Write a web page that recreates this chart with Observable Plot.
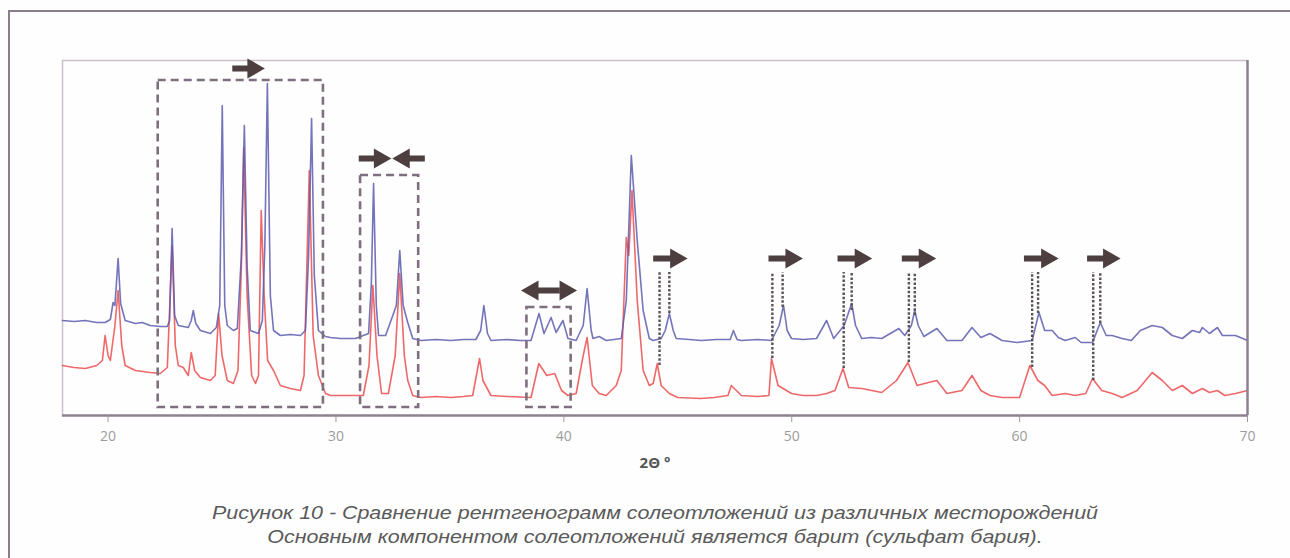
<!DOCTYPE html>
<html>
<head>
<meta charset="utf-8">
<script src="https://cdn.jsdelivr.net/npm/d3@7"></script>
<script src="https://cdn.jsdelivr.net/npm/@observablehq/plot@0.6"></script>
<style>
  html, body { margin: 0; padding: 0; background: #ffffff; }
  #page { position: relative; width: 1290px; height: 558px; overflow: hidden; background: #fefefe; }
  #outer { position: absolute; left: 8px; top: 10px; width: 1300px; height: 560px;
           border-left: 2.5px solid #8b7e8b; border-top: 2.5px solid #8b7e8b; }
  #chart { position: absolute; left: 0; top: 0; }
  #caption { position: absolute; left: 10px; top: 480px; width: 1290px; text-align: center;
             font-family: "Liberation Sans", Arial, sans-serif;
             font-style: italic; font-size: 18px; line-height: 24px;
             color: #5a5a5a; padding-top: 21px; transform: scaleX(1.19); transform-origin: 645px 0; }
</style>
</head>
<body>
<div id="page">
  <div id="outer"></div>
  <div id="chart"></div>
  <div id="caption">
    <div>Рисунок 10 - Сравнение рентгенограмм солеотложений из различных месторождений</div>
    <div>Основным компонентом солеотложений является барит (сульфат бария).</div>
  </div>
</div>
<script>
// ---- Diffractogram 1 (upper, blue) : 2θ and intensity (a.u.)
const blueTheta = [18.0,18.5,19.0,19.5,19.87,20.1,20.22,20.3,20.44,20.55,20.75,21.2,21.5,21.85,22.29,22.6,22.7,22.81,22.92,23.08,23.52,23.65,23.74,23.85,24.05,24.49,24.75,24.9,25.01,25.12,25.23,25.5,25.67,25.85,25.98,26.1,26.24,26.6,26.77,26.88,26.99,27.12,27.26,27.56,28.0,28.44,28.66,28.8,28.93,29.05,29.23,29.54,29.76,30.2,30.86,31.43,31.55,31.65,31.77,31.87,32.18,32.65,32.8,32.95,33.15,33.37,33.72,34.4,35.04,35.6,36.14,36.35,36.49,36.65,36.8,37.5,38.1,38.56,38.91,39.13,39.44,39.66,39.96,40.18,40.54,40.85,41.02,41.2,41.28,41.55,41.86,42.52,42.74,42.96,43.22,43.48,43.75,43.92,44.27,44.45,44.63,44.8,44.93,45.5,46.03,46.7,47.3,47.44,47.6,47.79,48.5,49.11,49.45,49.64,49.8,49.99,50.5,51.09,51.53,51.84,52.3,52.63,52.8,53.07,53.5,53.95,54.7,54.96,55.25,55.4,55.55,55.8,56.37,56.81,57.47,57.91,58.3,58.7,59.23,59.89,60.55,60.85,61.1,61.43,61.7,62.0,62.44,62.7,63.2,63.54,63.8,64.06,64.5,64.9,65.3,65.82,66.26,66.7,67.14,67.58,67.9,68.02,68.33,68.68,68.9,69.47,70.0];
const blueI = [95,94,95,93,93,96,113,110,157,112,95,92,93,90,89,89,95,187,100,90,88,95,105,92,85,82,88,110,310,110,90,85,87,160,290,150,85,82,95,170,332,120,85,80,81,80,85,160,297,140,85,79,78,77,77,82,130,232,110,80,80,110,165,110,93,77,75,76,75,76,76,85,110,82,75,76,75,75,102,82,98,83,95,77,75,90,127,85,77,79,75,77,115,260,175,105,77,75,77,85,102,85,77,76,75,76,76,85,76,75,76,75,90,110,85,77,76,77,95,77,90,112,90,77,78,77,87,80,90,105,90,79,87,75,75,88,78,82,75,73,75,103,85,85,78,75,78,73,73,93,80,80,77,75,85,90,88,80,77,85,83,88,82,88,80,80,75];

// ---- Diffractogram 2 (lower, red)
const redTheta = [18.0,18.5,19.0,19.5,19.75,19.87,20.0,20.1,20.3,20.44,20.6,20.75,21.2,21.85,22.29,22.6,22.81,22.95,23.08,23.3,23.52,23.65,23.8,24.05,24.49,24.7,24.85,25.0,25.23,25.5,25.7,25.85,25.95,26.1,26.3,26.47,26.6,26.72,26.85,27.0,27.26,27.56,28.0,28.44,28.6,28.83,29.0,29.23,29.54,29.76,30.2,30.86,31.2,31.45,31.62,31.8,32.0,32.3,32.6,32.8,33.0,33.15,33.37,33.72,34.4,35.04,35.6,36.0,36.3,36.45,36.8,37.5,38.56,38.9,39.25,39.6,39.9,40.18,40.54,40.85,41.02,41.25,41.55,41.86,42.3,42.52,42.74,42.85,42.99,43.22,43.48,43.75,43.92,44.1,44.27,44.63,45.0,46.0,46.6,47.2,47.35,47.79,48.5,49.0,49.11,49.4,49.99,50.5,51.09,51.53,51.9,52.25,52.5,53.07,53.95,54.6,55.1,55.5,56.0,56.37,56.81,57.47,57.91,58.3,58.7,59.23,60.0,60.45,60.8,61.1,61.43,62.0,62.44,62.9,63.2,63.6,64.06,64.5,65.16,65.82,66.26,66.7,67.14,67.58,68.02,68.33,68.68,69.0,69.47,70.0];
const redI = [50,48,47,50,55,80,60,55,90,125,70,50,45,43,42,48,170,70,50,48,40,63,45,38,35,40,102,60,35,32,45,150,268,120,40,32,40,205,120,55,45,30,27,25,40,245,80,40,22,20,20,20,20,50,130,60,22,22,60,142,60,35,20,18,19,18,19,20,57,35,20,19,18,52,40,42,25,20,22,60,78,30,22,20,30,45,178,160,225,115,45,30,32,52,30,22,18,17,18,20,30,20,19,20,57,30,22,20,20,22,25,47,28,27,23,35,53,30,33,35,22,25,40,25,20,18,18,50,35,30,20,22,20,22,37,25,22,18,25,43,35,25,30,22,27,23,25,20,22,25];

// ---- Annotations: dashed boxes (2θ from/to, intensity from/to)
const boxX1 = [22.2, 31.08, 38.38];
const boxX2 = [29.45, 33.63, 40.32];
const boxY1 = [8, 8, 8];
const boxY2 = [335, 240, 108];

// ---- Arrows (tail, tip, level)
const arrowFrom = [25.45, 31.0, 33.9, 43.92, 48.98, 52.01, 54.83, 60.19, 62.96, 39.8, 39.8];
const arrowTo   = [26.6, 32.15, 32.75, 45.15, 50.21, 53.25, 56.06, 61.43, 64.15, 40.3, 38.4];
const arrowLevel= [347, 257, 257, 157, 157, 157, 157, 157, 157, 125, 125];

// ---- Dotted guide lines: red-peak and blue-peak positions with their peak heights
const guideTheta = [44.2, 44.63, 49.15, 49.6, 52.28, 52.63, 55.14, 55.4, 60.55, 60.81, 63.23, 63.54];
const guideEnd   = [50, 102, 57, 108, 47, 105, 53, 100, 48, 102, 35, 92];
const guideTop = 143;

const xTicks = [20, 30, 40, 50, 60, 70];

const blue = blueTheta.map((t, i) => ({t, v: blueI[i]}));
const red = redTheta.map((t, i) => ({t, v: redI[i]}));
const boxes = boxX1.map((x1, i) => ({x1, x2: boxX2[i], y1: boxY1[i], y2: boxY2[i]}));
const arrows = arrowFrom.map((a, i) => ({a, b: arrowTo[i], y: arrowLevel[i], dir: arrowTo[i] > a ? 1 : -1}));
const guides = guideTheta.map((t, i) => ({t, y1: guideEnd[i], y2: guideTop}));

const arrowColor = "#4d3f40";
const headLen = 0.42; // in degrees of 2θ

const chart = Plot.plot({
  width: 1290,
  height: 480,
  marginLeft: 62,
  marginRight: 43,
  marginTop: 60,
  marginBottom: 65,
  x: {domain: [18, 70]},
  y: {domain: [0, 355], axis: null},
  style: {background: "transparent", fontFamily: "'Open Sans', sans-serif"},
  marks: [
    Plot.ruleY([355], {stroke: "#c9c0c9", strokeWidth: 1.5}),
    Plot.ruleX([18], {stroke: "#c9c0c9", strokeWidth: 1.5}),
    Plot.lineY(red, {x: "t", y: "v", stroke: "#ec4d4f", strokeWidth: 1.6, strokeOpacity: 0.85, strokeLinejoin: "round"}),
    Plot.lineY(blue, {x: "t", y: "v", stroke: "#5c5cae", strokeWidth: 1.6, strokeOpacity: 0.85, strokeLinejoin: "round"}),
    Plot.rect(boxes, {x1: "x1", x2: "x2", y1: "y1", y2: "y2", fill: "none", stroke: "#7e6f7e", strokeWidth: 2.6, strokeDasharray: "8,5"}),
    Plot.ruleX(guides, {x: "t", y1: "y1", y2: "y2", stroke: "#5a5055", strokeWidth: 2.4, strokeDasharray: "2.5,1.8"}),
    Plot.link(arrows, {x1: "a", x2: d => d.b - d.dir * headLen, y1: "y", y2: "y", stroke: arrowColor, strokeWidth: 6}),
    Plot.dot(arrows, {x: d => d.b - d.dir * headLen * 0.55, y: "y", symbol: "triangle", r: 7.5, fill: arrowColor, stroke: "none", rotate: d => d.dir > 0 ? 90 : -90}),
    Plot.ruleY([0], {stroke: "#8d808f", strokeWidth: 2.5}),
    Plot.ruleX([70], {stroke: "#8d808f", strokeWidth: 2.5}),
    Plot.axisX({ticks: xTicks, tickSize: 7, tickPadding: 9, stroke: "#9a9a9a", fill: "#9c9c9c", fontSize: 14, label: null}),
    Plot.text(["2Θ °"], {frameAnchor: "bottom", dy: 48, fontSize: 15, fontWeight: "bold", fill: "#555", lineAnchor: "middle"})
  ]
});
document.getElementById("chart").appendChild(chart);
</script>
</body>
</html>
